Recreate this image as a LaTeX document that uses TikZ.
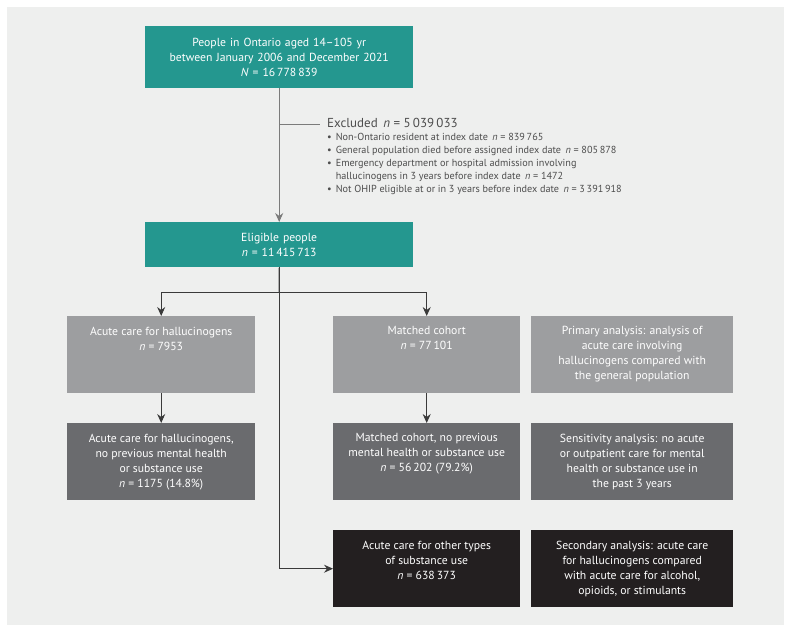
\documentclass[tikz,border=0pt]{standalone}
\usepackage{fontspec}
\setmainfont{PT Sans}
\usetikzlibrary{arrows.meta}
\definecolor{cmajteal}{HTML}{24978F}
\definecolor{lightgrey}{HTML}{9D9EA0}
\definecolor{darkgrey}{HTML}{6A6B6E}
\definecolor{nearblack}{HTML}{231F20}
\definecolor{panelgrey}{HTML}{EEEFEE}
\definecolor{linegrey}{HTML}{3A3A3A}
\definecolor{softline}{HTML}{7B7B7B}
\definecolor{textgrey}{HTML}{4D4D4D}
\newcommand{\boxtxt}[2]{\parbox[t][77pt][t]{#1}{\centering\vspace*{10.5pt}#2\par}}

\begin{document}
\begin{tikzpicture}[x=1pt,y=-1pt,
  box/.style={anchor=north west, inner sep=0pt, text=white, font=\fontsize{11.7}{15}\selectfont},
  tealbox/.style={box, fill=cmajteal, minimum width=268pt, text width=268pt, align=center},
  greybox/.style={box, fill=lightgrey},
  darkbox/.style={box, fill=darkgrey},
  blackbox/.style={box, fill=nearblack},
  conn/.style={draw=linegrey, line width=0.9pt},
  arr/.style={conn, -{Stealth[length=9pt,width=8pt,inset=3pt]}}]
  \useasboundingbox (0,0) rectangle (791,633);
  \fill[panelgrey] (7,7) rectangle (784,625);

  \node[tealbox, minimum height=62pt] (ontario) at (145,26)
    {People in Ontario aged 14--105 yr\\ between January 2006 and December 2021\\ \textit{N} = 16\,778\,839};
  \node[tealbox, minimum height=45pt] (elig) at (145,222)
    {Eligible people\\ \textit{n} = 11\,415\,713};

  \node[anchor=base west, inner sep=0pt, text=textgrey, font=\fontsize{13}{15}\selectfont] (excl) at (327,127)
    {Excluded\, \textit{n} = 5\,039\,033};
  \node[anchor=base west, inner sep=0pt, text=textgrey, font=\fontsize{10.2}{13}\selectfont] (excllist) at (327,140)
    {\begin{tabular}[t]{@{}l@{\hspace{4pt}}l@{}}
     \textbullet & Non-Ontario resident at index date\, \textit{n} = 839\,765\\
     \textbullet & General population died before assigned index date\, \textit{n} = 805\,878\\
     \textbullet & Emergency department or hospital admission involving\\
                 & hallucinogens in 3 years before index date\, \textit{n} = 1472\\
     \textbullet & Not OHIP eligible at or in 3 years before index date\, \textit{n} = 3\,391\,918
     \end{tabular}};

  \node[greybox] (acute) at (67,316)
    {\boxtxt{188pt}{Acute care for hallucinogens\\ \textit{n} = 7953}};
  \node[greybox] (match) at (333,316)
    {\boxtxt{187pt}{Matched cohort\\ \textit{n} = 77\,101}};
  \node[greybox] (primary) at (531,316)
    {\boxtxt{202pt}{Primary analysis: analysis of\\ acute care involving\\ hallucinogens compared with\\ the general population}};

  \node[darkbox] (acuteno) at (67,423)
    {\boxtxt{188pt}{Acute care for hallucinogens,\\ no previous mental health\\ or substance use\\ \textit{n} = 1175 (14.8\%)}};
  \node[darkbox] (matchno) at (333,423)
    {\boxtxt{187pt}{Matched cohort, no previous\\ mental health or substance use\\ \textit{n} = 56\,202 (79.2\%)}};
  \node[darkbox] (sens) at (531,423)
    {\boxtxt{202pt}{Sensitivity analysis: no acute\\ or outpatient care for mental\\ health or substance use in\\ the past 3 years}};

  \node[blackbox] (other) at (333,530)
    {\boxtxt{187pt}{Acute care for other types\\ of substance use\\ \textit{n} = 638\,373}};
  \node[blackbox] (second) at (531,530)
    {\boxtxt{202pt}{Secondary analysis: acute care\\ for hallucinogens compared\\ with acute care for alcohol,\\ opioids, or stimulants}};

  \coordinate (exc) at (320,124);
  \coordinate (fork) at (279,292);
  \draw[arr, draw=softline] (ontario.south) -- (elig.north);
  \draw[conn, draw=softline] (ontario.south |- exc) -- (exc);
  \draw[conn] (elig.south) -- (fork);
  \draw[conn] (acute.north |- fork) -- (match.north |- fork);
  \draw[arr] (acute.north |- fork) -- (acute.north);
  \draw[arr] (match.north |- fork) -- (match.north);
  \draw[arr] (elig.south) |- (other.west);
  \draw[arr] (acute.south) -- (acuteno.north);
  \draw[arr] (match.south) -- (matchno.north);
\end{tikzpicture}
\end{document}
